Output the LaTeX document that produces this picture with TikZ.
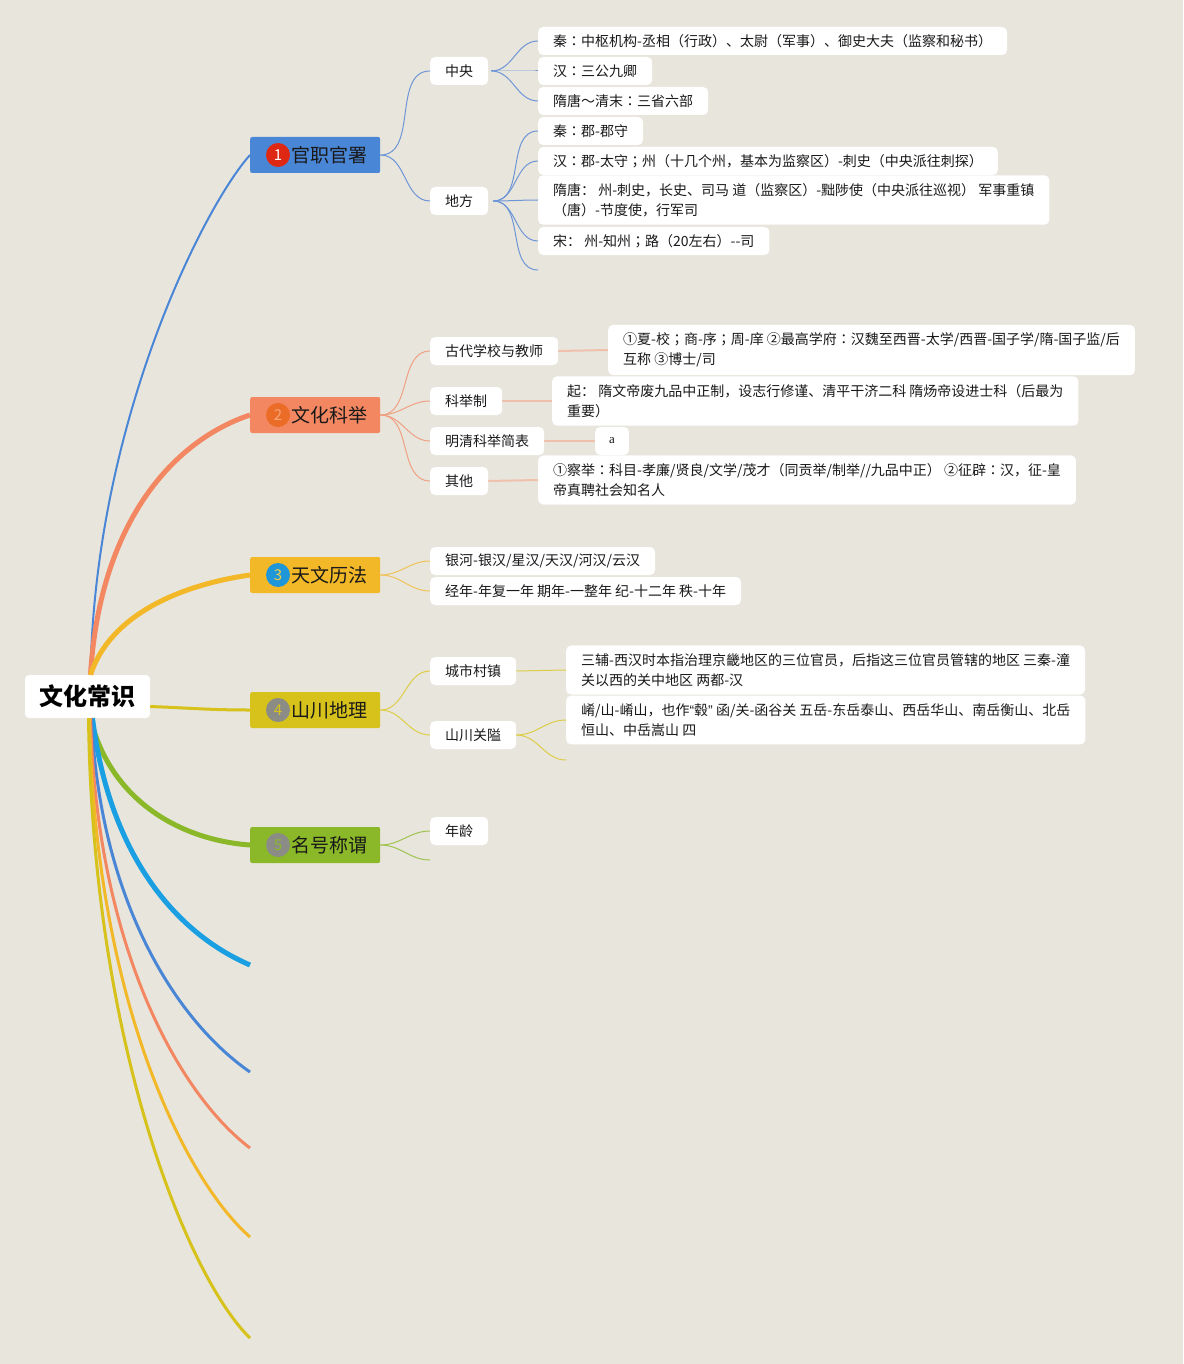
\documentclass[tikz,border=0pt]{standalone}
\usepackage{fontspec}
\setmainfont{Noto Sans CJK SC}
\newfontfamily\serifa{Liberation Serif}
\newfontfamily\tcfont{Noto Sans CJK TC}
\newfontfamily\latq{Liberation Sans}
\newcommand\cln{{\tcfont ：}}
\newcommand\smc{{\tcfont ；}}
\definecolor{bg}{RGB}{232,229,221}
\definecolor{txt}{RGB}{25,25,25}
\definecolor{cBlue}{RGB}{74,134,214}
\definecolor{cSalmon}{RGB}{242,135,98}
\definecolor{cOrange}{RGB}{242,184,40}
\definecolor{cYellow}{RGB}{214,194,27}
\definecolor{cGreen}{RGB}{138,184,40}
\definecolor{cCyan}{RGB}{26,160,226}
\definecolor{lBlue}{RGB}{110,150,215}
\definecolor{lSalmon}{RGB}{240,160,130}
\definecolor{pSalmon}{RGB}{240,192,172}
\definecolor{lOrange}{RGB}{240,195,90}
\definecolor{lYellow}{RGB}{222,205,70}
\definecolor{lGreen}{RGB}{160,195,80}
\definecolor{bRed}{RGB}{222,40,20}
\definecolor{bOrange}{RGB}{235,108,38}
\definecolor{bBlue}{RGB}{30,150,215}
\definecolor{bGray}{RGB}{140,140,135}
\begin{document}
\begin{tikzpicture}[x=1pt,y=-1pt,
  leaf/.style={fill=white,rounded corners=5pt,anchor=west,inner xsep=15pt,inner ysep=6pt,minimum height=28pt,font=\fontsize{14}{20}\selectfont,text=txt,align=left},
  leaftwo/.style={leaf,inner ysep=8pt},
  brnode/.style={anchor=west,minimum width=130pt,minimum height=36pt,inner sep=0pt,rounded corners=2pt,font=\fontsize{19}{22}\selectfont,text=txt},
  badge/.style={circle,minimum size=24pt,inner sep=0pt,font=\fontsize{15}{15}\selectfont},
  thin/.style={line width=1pt},
  bar/.style={line width=2pt},
]
\fill[bg] (0,0) rectangle (1183,1364);
\useasboundingbox (0,0) rectangle (1183,1364);

% root
\node[fill=white,rounded corners=4pt,minimum width=125pt,minimum height=43pt,inner sep=0pt,font=\fontsize{24}{26}\selectfont\bfseries,text=black] (root) at (87.5,696.5) {文化常识};

% branches
\node[brnode,fill=cBlue] (b1) at (250,155) {\hspace*{28pt}官职官署};
\node[badge,fill=bRed,text=white] (g1) at (278,155) {1};
\node[brnode,fill=cSalmon] (b2) at (250,415) {\hspace*{28pt}文化科举};
\node[badge,fill=bOrange,text={rgb,255:red,246;green,165;blue,120}] (g2) at (278,415) {2};
\node[brnode,fill=cOrange] (b3) at (250,575) {\hspace*{28pt}天文历法};
\node[badge,fill=bBlue,text={rgb,255:red,240;green,205;blue,70}] (g3) at (278,575) {3};
\node[brnode,fill=cYellow] (b4) at (250,710) {\hspace*{28pt}山川地理};
\node[badge,fill=bGray,text=cYellow] (g4) at (278,710) {4};
\node[brnode,fill=cGreen] (b5) at (250,845) {\hspace*{28pt}名号称谓};
\node[badge,fill=bGray,text=cGreen] (g5) at (278,845) {5};

% free ends of the lower root curves
\coordinate (e1) at (250,965);
\coordinate (e2) at (250,1072);
\coordinate (e3) at (250,1148);
\coordinate (e4) at (250,1237);
\coordinate (e5) at (250,1338);

% root connectors
\draw[cBlue,line width=2pt] ([xshift=3pt]root.north) .. controls (95,420) and (205,205) .. (b1.west);
\draw[cSalmon,line width=5pt] ([xshift=3pt]root.north) .. controls (100,520) and (175,440) .. (b2.west);
\draw[cOrange,line width=5pt] ([xshift=3pt]root.north) .. controls (110,615) and (180,585) .. (b3.west);
\draw[cYellow,line width=3pt] ([yshift=-10pt]root.east) .. controls (190,708) and (210,710) .. (b4.west);
\draw[cGreen,line width=5pt] ([xshift=3pt]root.south) .. controls (110,800) and (180,840) .. (b5.west);
\draw[cCyan,line width=5pt] ([xshift=5pt]root.south) .. controls (110,860) and (180,935) .. (e1);
\draw[cBlue,line width=3pt] ([xshift=4pt]root.south) .. controls (100,900) and (175,1020) .. (e2);
\draw[cSalmon,line width=3pt] ([xshift=3pt]root.south) .. controls (97,950) and (180,1095) .. (e3);
\draw[cOrange,line width=3pt] ([xshift=2pt]root.south) .. controls (95,1000) and (185,1180) .. (e4);
\draw[cYellow,line width=3pt] ([xshift=1pt]root.south) .. controls (93,1050) and (190,1280) .. (e5);

% ---------- branch 1
\node[leaf] (zy) at (430,71) {中央};
\node[leaf] (df) at (430,201) {地方};
\node[leaf] (a1) at (538,41) {秦\cln 中枢机构-丞相（行政）、太尉（军事）、御史大夫（监察和秘书）};
\node[leaf] (a2) at (538,71) {汉\cln 三公九卿};
\node[leaf] (a3) at (538,101) {隋唐～清末\cln 三省六部};
\node[leaf] (d1) at (538,131) {秦\cln 郡-郡守};
\node[leaf] (d2) at (538,161) {汉\cln 郡-太守\smc 州（十几个州，基本为监察区）-刺史（中央派往刺探）};
\node[leaftwo] (d3) at (538,200) {隋唐： 州-刺史，长史、司马 道（监察区）-黜陟使（中央派往巡视） 军事重镇\\（唐）-节度使，行军司};
\node[leaf] (d4) at (538,241) {宋： 州-知州\smc 路（20左右）-\kern0pt-司};
\coordinate (d5) at (538,270);

\draw[lBlue,thin] (b1.east) to[out=0,in=180] (zy.west);
\draw[lBlue,thin] (b1.east) to[out=0,in=180] (df.west);
\foreach \t in {a1,a2,a3} \draw[lBlue,thin] ([xshift=3pt]zy.east) to[out=0,in=180] (\t.west);
\foreach \t in {d1,d2,d3,d4} \draw[lBlue,thin] ([xshift=5pt]df.east) to[out=0,in=180] (\t.west);
\draw[lBlue,thin] ([xshift=5pt]df.east) to[out=0,in=180] (d5);

% ---------- branch 2
\node[leaf] (k1) at (430,351) {古代学校与教师};
\node[leaf] (k2) at (430,401) {科举制};
\node[leaf] (k3) at (430,441) {明清科举简表};
\node[leaf] (k4) at (430,481) {其他};
\node[leaftwo] (m1) at (608,350) {①夏-校\smc 商-序\smc 周-庠 ②最高学府\cln 汉魏至西晋-太学/西晋-国子学/隋-国子监/后\\互称 ③博士/司};
\node[leaftwo] (m2) at (552,401) {起： 隋文帝废九品中正制，设志行修谨、清平干济二科 隋炀帝设进士科（后最为\\重要）};
\node[leaf,font=\fontsize{13}{16}\selectfont\serifa,inner xsep=14pt] (m3) at (595,441) {a};
\node[leaftwo] (m4) at (538,480) {①察举\cln 科目-孝廉/贤良/文学/茂才（同贡举/制举//九品中正） ②征辟\cln 汉，征-皇\\帝真聘社会知名人};
\foreach \t in {k1,k2,k3,k4} \draw[lSalmon,thin] (b2.east) to[out=0,in=180] (\t.west);
\draw[pSalmon,bar] (k1.east) -- (m1.west);
\draw[pSalmon,bar] (k2.east) -- (m2.west);
\draw[pSalmon,bar] (k3.east) -- (m3.west);
\draw[pSalmon,bar] (k4.east) -- (m4.west);

% ---------- branch 3
\node[leaf] (t1) at (430,561) {银河-银汉/星汉/天汉/河汉/云汉};
\node[leaf] (t2) at (430,591) {经年-年复一年 期年-一整年 纪-十二年 秩-十年};
\foreach \t in {t1,t2} \draw[lOrange,thin] (b3.east) to[out=0,in=180] (\t.west);

% ---------- branch 4
\node[leaf] (s1) at (430,671) {城市村镇};
\node[leaf] (s2) at (430,735) {山川关隘};
\node[leaftwo] (n1) at (566,670) {三辅-西汉时本指治理京畿地区的三位官员，后指这三位官员管辖的地区 三秦-潼\\关以西的关中地区 两都-汉};
\node[leaftwo] (n2) at (566,720) {崤/山-崤山，也作{\latq “}毂{\latq ”} 函/关-函谷关 五岳-东岳泰山、西岳华山、南岳衡山、北岳\\恒山、中岳嵩山 四};
\coordinate (n3) at (566,760);
\foreach \t in {s1,s2} \draw[lYellow,thin] (b4.east) to[out=0,in=180] (\t.west);
\draw[lYellow,thin] (s1.east) -- (n1.west);
\draw[lYellow,thin] (s2.east) to[out=0,in=180] (n2.west);
\draw[lYellow,thin] (s2.east) to[out=0,in=180] (n3);

% ---------- branch 5
\node[leaf] (y1) at (430,831) {年龄};
\coordinate (y2) at (430,860);
\draw[lGreen,thin] (b5.east) to[out=0,in=180] (y1.west);
\draw[lGreen,thin] (b5.east) to[out=0,in=180] (y2);
\end{tikzpicture}
\end{document}
